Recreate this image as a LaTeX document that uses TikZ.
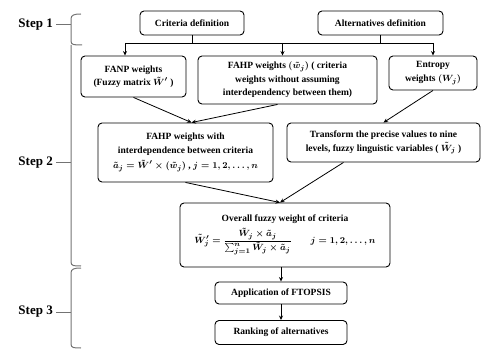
\documentclass[tikz,border=0pt]{standalone}
\usepackage{amsmath}
\usepackage{fontspec}
\setmainfont{Liberation Serif}
\usetikzlibrary{arrows.meta,calc}
\begin{document}
\begin{tikzpicture}[x=1pt,y=-1pt,
  box/.style={draw, rounded corners=4pt, line width=0.9pt, align=center, inner sep=1pt,
    font=\bfseries\boldmath\fontsize{9.5}{13.5}\selectfont},
  arr/.style={-{Stealth[length=4.5pt,width=4pt]}, line width=0.8pt},
  ln/.style={line width=0.8pt},
  brk/.style={draw=black!55, line width=1pt},
  steplbl/.style={font=\bfseries\fontsize{13}{15}\selectfont, inner sep=1pt, anchor=east}]
\useasboundingbox (0,0) rectangle (481,352);
% boxes
\node[box, minimum width=104pt, minimum height=24pt] (crit) at (192,23) {Criteria definition};
\node[box, minimum width=125pt, minimum height=24pt] (alt) at (380.5,23) {Alternatives definition};
\node[box, minimum width=105pt, minimum height=41pt] (fanp) at (133.5,76.5) {FANP weights\\(Fuzzy matrix $\tilde{W}'$ )};
\node[box, minimum width=179pt, minimum height=48pt] (fahp) at (287.5,80) {FAHP weights $(\tilde{w}_j)$ ( criteria\\weights without assuming\\interdependency between them)};
\node[box, minimum width=88pt, minimum height=34pt] (ent) at (433,73) {Entropy\\weights $(W_j)$};
\node[box, minimum width=175pt, minimum height=59pt] (fahpw) at (185.5,152.5) {FAHP weights with\\interdependence between criteria\\[2pt]$\tilde{a}_j=\tilde{W}'\times(\tilde{w}_j)$ , $j=1,2,\dots,n$};
\node[box, minimum width=193pt, minimum height=39pt] (trans) at (383.5,142.5) {Transform the precise values to nine\\levels, fuzzy linguistic variables ( $\tilde{W}_j$ )};
\node[box, minimum width=210pt, minimum height=64pt] (over) at (285,235) {Overall fuzzy weight of criteria\\[3pt]$\tilde{W}'_j=\dfrac{\tilde{W}_j\times\tilde{a}_j}{\sum_{j=1}^{n}\tilde{W}_j\times\tilde{a}_j}\qquad j=1,2,\dots,n$};
\node[box, minimum width=132pt, minimum height=22pt] (app) at (281,293) {Application of FTOPSIS};
\node[box, minimum width=132pt, minimum height=24pt] (rank) at (281,332.5) {Ranking of alternatives};
% bus of step 1
\coordinate (busL) at (125,43);
\coordinate (busR) at (433,43);
\draw[ln] (crit.south) -- (crit.south |- busL);
\draw[ln] (alt.south) -- (alt.south |- busL);
\draw[ln] (busL) -- (busR);
\draw[arr] (busL) -- (busL |- fanp.north);
\draw[arr] ([xshift=-5pt]fahp.north |- busL) -- ([xshift=-5pt]fahp.north);
\draw[arr] (busR) -- (ent.north);
% step 2 connectors
\draw[arr] (fanp.south) -- ([xshift=6pt]fahpw.north);
\draw[arr] ([xshift=-10pt]fahp.south) -- ([xshift=6pt]fahpw.north);
\draw[arr] (ent.south) -- (trans.north);
\draw[arr] (fahpw.south) -- ([xshift=-5pt]over.north);
\draw[arr] ([xshift=-40pt]trans.south) -- ([xshift=-5pt]over.north);
% step 3
\draw[arr] (app.north |- over.south) -- (app.north);
\draw[arr] (app.south) -- (rank.north);
% brackets
\draw[brk] (81,14) .. controls (74,14) and (71,15) .. (71,19) -- (71,41) .. controls (71,45) and (74,45) .. (82,45);
\draw[brk] (71,45) -- (71,262) .. controls (71,266) and (74,266) .. (81,266);
\draw[brk] (81,268) .. controls (74,268) and (71,269) .. (71,273) -- (71,344) .. controls (71,348) and (74,348) .. (81,348);
\node[steplbl] (s1) at (54,25) {Step 1};
\node[steplbl] (s2) at (54,163) {Step 2};
\node[steplbl] (s3) at (54,312) {Step 3};
\draw[brk] ([xshift=2pt]s1.east) -- (71,25);
\draw[brk] ([xshift=2pt]s2.east) -- (71,163);
\draw[brk] ([xshift=2pt]s3.east) -- (71,312);
\end{tikzpicture}
\end{document}
